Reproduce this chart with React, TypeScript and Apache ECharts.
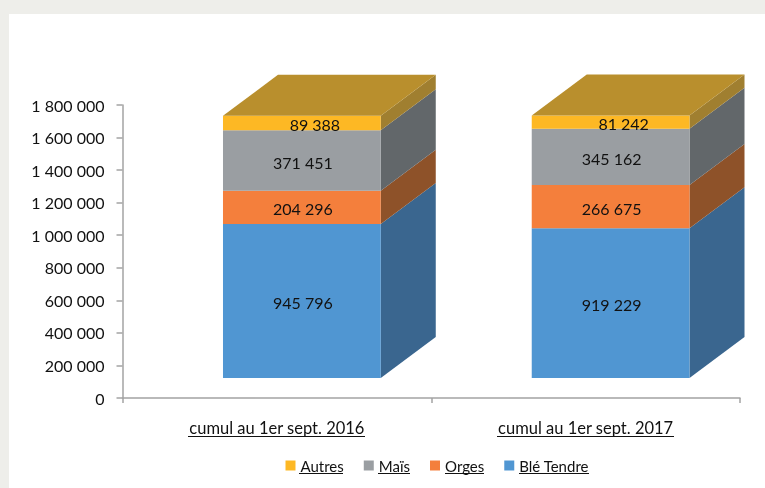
import React, { useEffect, useRef } from "react";
import * as echarts from "echarts";

const categories = ["cumul au 1er sept. 2016", "cumul au 1er sept. 2017"];
const bleTendre = [945796, 919229];
const orges = [204296, 266675];
const mais = [371451, 345162];
const autres = [89388, 81242];
const legendOrder = ["Autres", "Maïs", "Orges", "Blé Tendre"];

const stackNames = ["Blé Tendre", "Orges", "Maïs", "Autres"];
const stackValues = [bleTendre, orges, mais, autres];
const frontColors = ["#5096d2", "#f47f3c", "#9a9ea2", "#fdb824"];
const sideColors = ["#3a668f", "#8e5229", "#62676a", "#a07f30"];
const topColor = "#b98f2d";

const FONT = "Lato";
const FRONT_DX = 25;
const FRONT_DY = -20;
const DEPTH_DX = 55;
const DEPTH_DY = -41;
const BAR_RATIO = 0.511;

const fmt = (v: number) => String(v).replace(/\B(?=(\d{3})+$)/g, " ");

function seriesFor(si: number) {
  const data = categories.map((_, c) => {
    let base = 0;
    for (let k = 0; k < si; k++) base += stackValues[k][c];
    return [c, base, base + stackValues[si][c], stackValues[si][c]];
  });
  const isTop = si === stackNames.length - 1;
  return {
    type: "custom",
    name: stackNames[si],
    itemStyle: { color: frontColors[si] },
    encode: { x: 0, y: [1, 2] },
    data,
    z: 2 + si,
    renderItem: (_: any, api: any) => {
      const lo = api.coord([api.value(0), api.value(1)]);
      const hi = api.coord([api.value(0), api.value(2)]);
      const w = api.size([1, 0])[0] * BAR_RATIO;
      const x0 = lo[0] + FRONT_DX - w / 2;
      const x1 = x0 + w;
      const yb = lo[1] + FRONT_DY;
      const yt = hi[1] + FRONT_DY;
      const children: any[] = [
        {
          type: "polygon",
          shape: { points: [[x1, yb], [x1 + DEPTH_DX, yb + DEPTH_DY], [x1 + DEPTH_DX, yt + DEPTH_DY], [x1, yt]] },
          style: { fill: sideColors[si] },
        },
        { type: "rect", shape: { x: x0, y: yt, width: w, height: yb - yt }, style: { fill: frontColors[si] } },
      ];
      if (isTop) {
        children.push({
          type: "polygon",
          shape: { points: [[x0, yt], [x1, yt], [x1 + DEPTH_DX, yt + DEPTH_DY], [x0 + DEPTH_DX, yt + DEPTH_DY]] },
          style: { fill: topColor },
        });
      }
      children.push({
        type: "text",
        z2: 10,
        x: (x0 + x1) / 2 + 1 + (isTop ? 12 : 0),
        y: (yb + yt) / 2 + 1.5,
        style: {
          text: fmt(api.value(3)),
          fill: "#111",
          font: `16px ${FONT}`,
          textAlign: "center",
          textVerticalAlign: "middle",
        },
      });
      return { type: "group", children };
    },
  };
}

const underline = (x1: number, x2: number, y: number) => ({
  type: "line",
  shape: { x1, y1: y, x2, y2: y },
  style: { stroke: "#111", lineWidth: 1 },
  silent: true,
});

export default function App() {
  const ref = useRef<HTMLDivElement>(null);
  useEffect(() => {
    const chart = echarts.init(ref.current!, null, { renderer: "svg" });
    chart.setOption({
      animation: false,
      backgroundColor: "transparent",
      textStyle: { fontFamily: FONT },
      grid: { left: 122.5, top: 105, width: 617.5, height: 293, containLabel: false },
      xAxis: {
        type: "category",
        data: categories,
        axisLine: { lineStyle: { color: "#a3a3a3", width: 1.5 } },
        axisTick: { show: true, length: 5, lineStyle: { color: "#a3a3a3", width: 1.5 } },
        axisLabel: { color: "#111", fontSize: 16.5, fontFamily: FONT, margin: 21 },
        splitLine: { show: false },
      },
      yAxis: {
        type: "value",
        min: 0,
        max: 1800000,
        interval: 200000,
        axisLine: { show: true, lineStyle: { color: "#a3a3a3", width: 1.5 } },
        axisTick: { show: true, length: 6, lineStyle: { color: "#a3a3a3", width: 1.5 } },
        axisLabel: { color: "#111", fontSize: 16, fontFamily: FONT, margin: 18, formatter: (v: number) => fmt(v) },
        splitLine: { show: false },
      },
      legend: {
        data: legendOrder,
        left: 280.5,
        top: 453,
        icon: "rect",
        itemWidth: 10,
        itemHeight: 10,
        itemGap: 20,
        textStyle: { color: "#111", fontSize: 15, fontFamily: FONT },
      },
      graphic: [
        underline(188, 365, 436.5),
        underline(497, 674, 436.5),
        underline(299, 343, 473.5),
        underline(378, 410, 473.5),
        underline(445, 484, 473.5),
        underline(519, 589, 473.5),
      ],
      series: stackNames.map((_, i) => seriesFor(i)),
    });
    return () => chart.dispose();
  }, []);
  return (
    <div style={{ position: "fixed", left: 0, top: 0, width: 765, height: 488, background: "#eeeeea", overflow: "hidden" }}>
      <div style={{ position: "absolute", left: 9, top: 14, right: 0, bottom: 0, background: "#fff" }} />
      <div ref={ref} style={{ position: "absolute", left: 0, top: 0, width: 765, height: 488, filter: "blur(0.4px)" }} />
    </div>
  );
}
